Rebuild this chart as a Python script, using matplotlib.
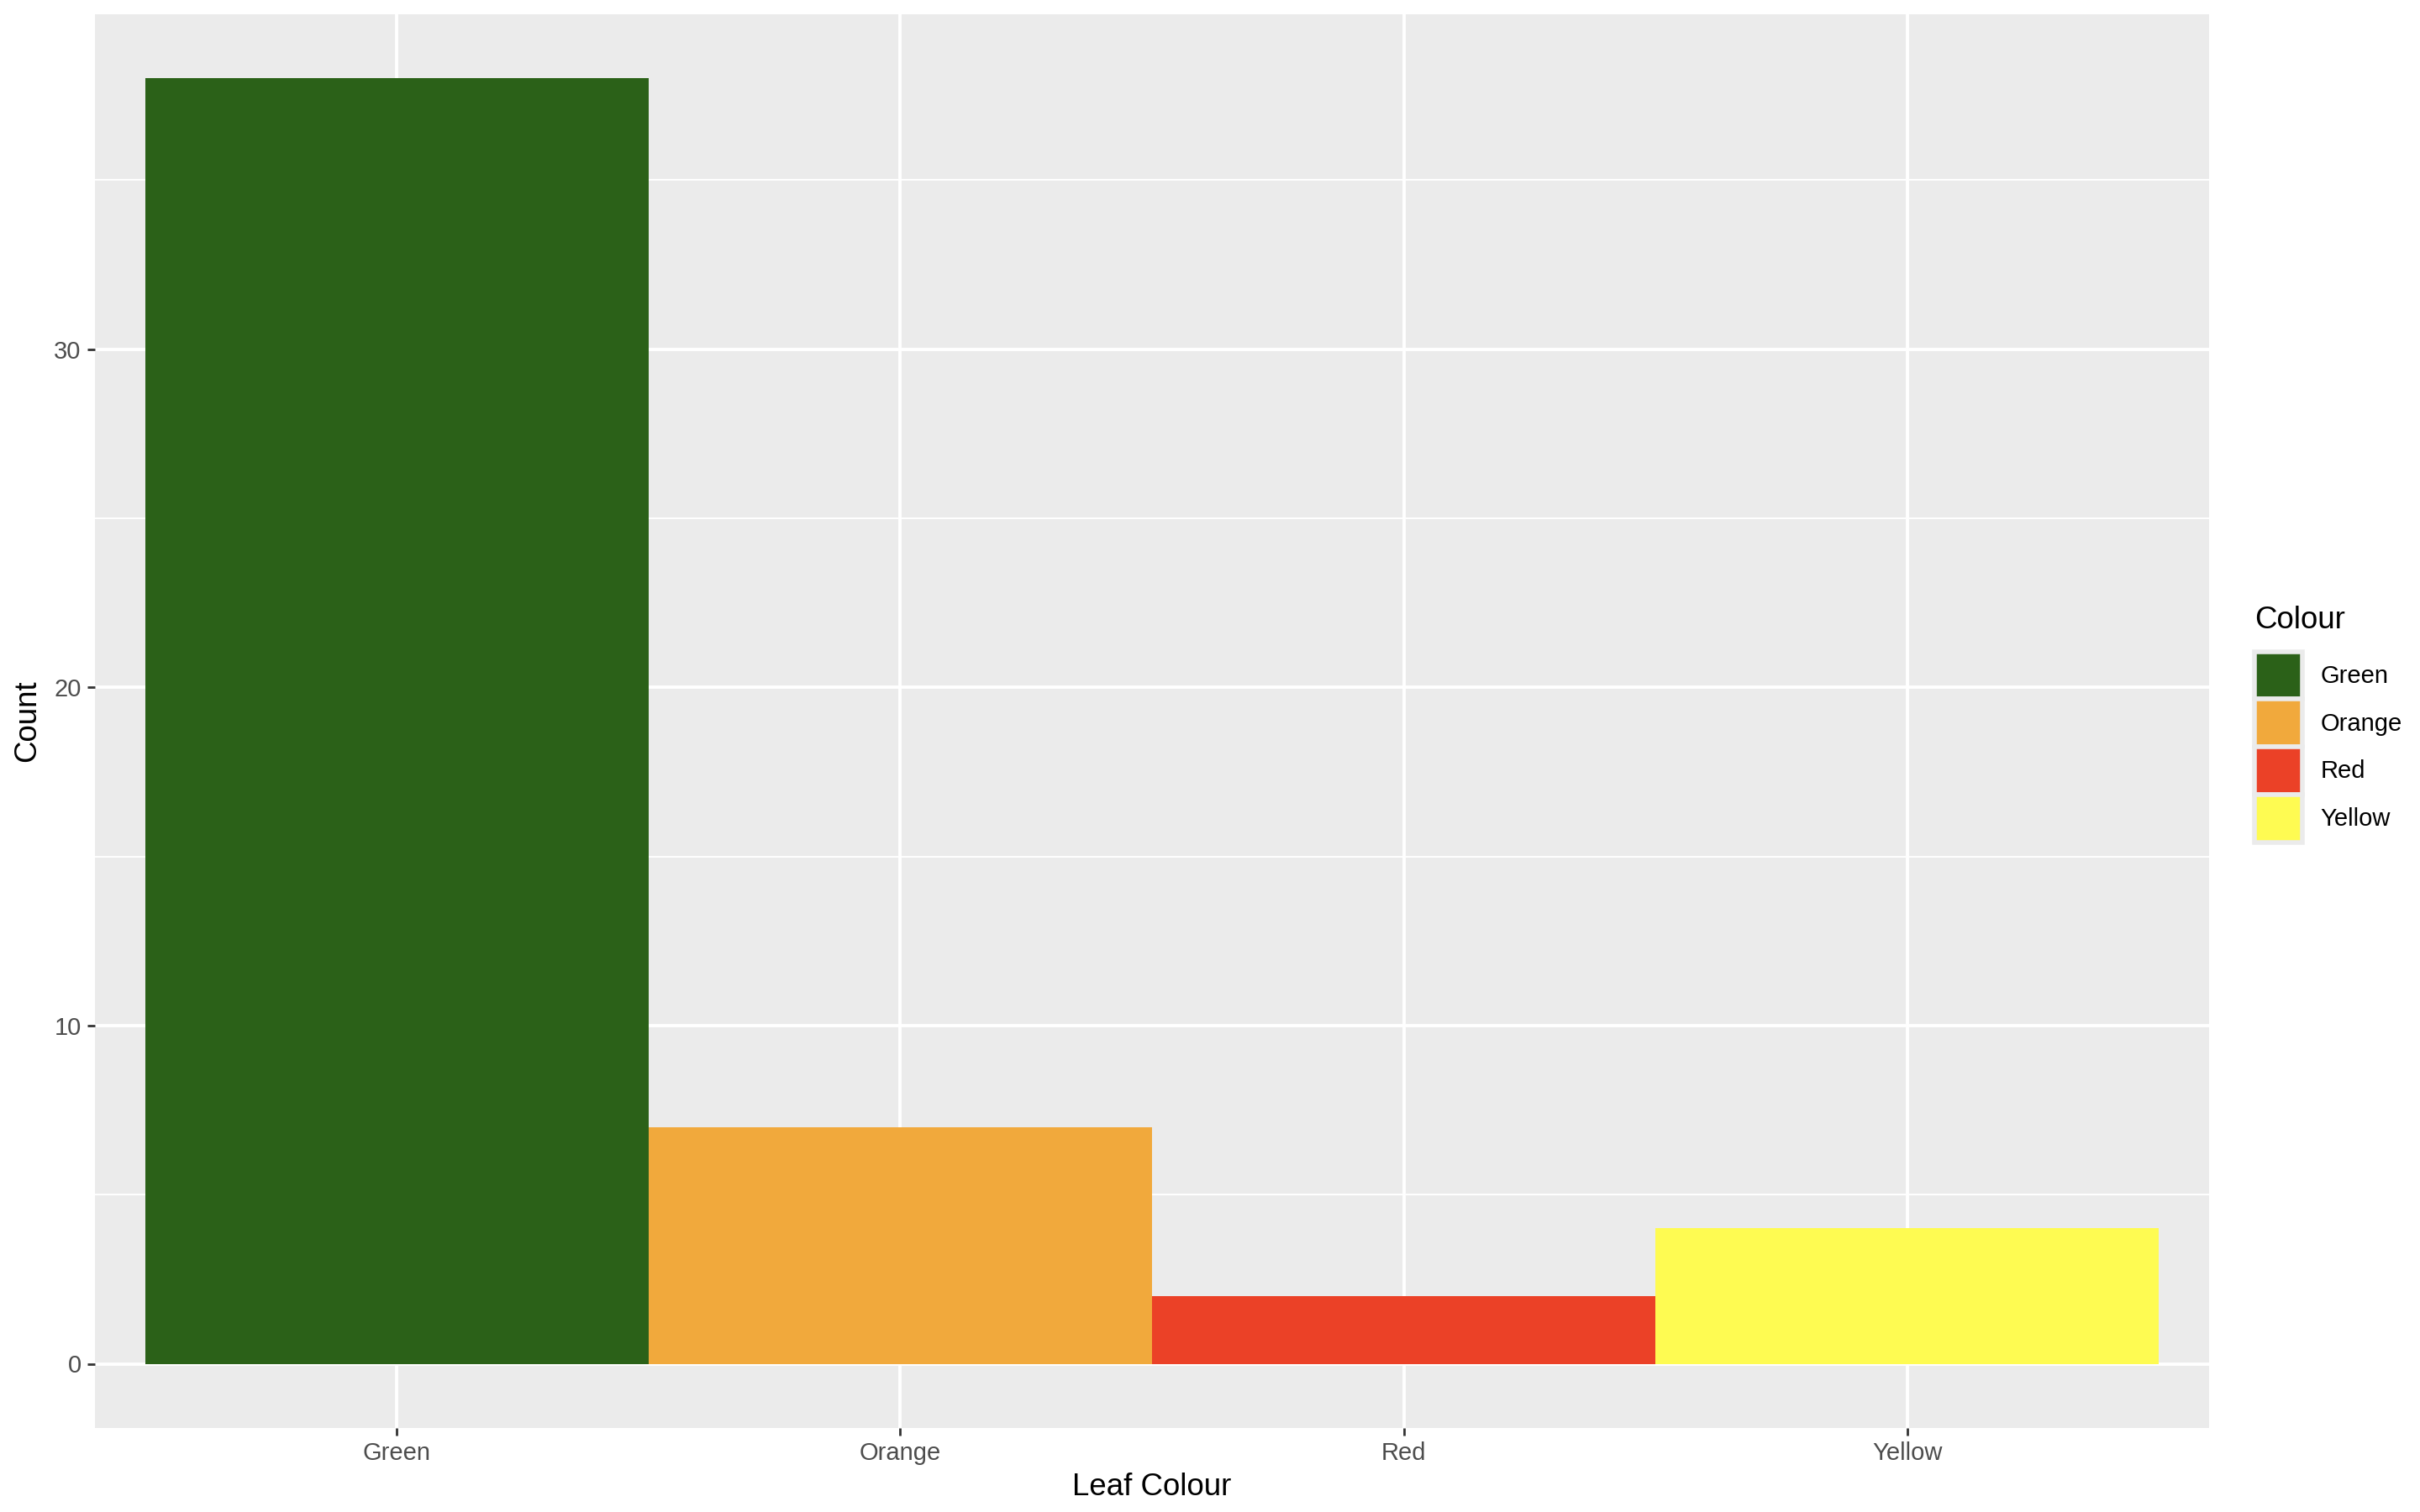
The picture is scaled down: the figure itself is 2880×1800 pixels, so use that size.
import matplotlib
matplotlib.use("Agg")
import matplotlib.pyplot as plt
from matplotlib.patches import Patch
from matplotlib.ticker import MultipleLocator

categories = ["Green", "Orange", "Red", "Yellow"]
counts = [38, 7, 2, 4]
fill_colors = ["#2B6118", "#F1A93C", "#EB4127", "#FEFB52"]
y_ticks = [0, 10, 20, 30]

plt.rcParams['font.family'] = ['Liberation Sans', 'DejaVu Sans']

W, H, DPI = 2880, 1800, 200
fig = plt.figure(figsize=(W / DPI, H / DPI), dpi=DPI)
fig.patch.set_facecolor("white")

left, right, top, bottom = 113, 2629, 17, 1700
ax = fig.add_axes([left / W, 1 - bottom / H, (right - left) / W, (bottom - top) / H])
ax.set_facecolor("#EBEBEB")

x = list(range(1, len(categories) + 1))
ax.bar(x, counts, width=1.0, color=fill_colors, zorder=3, linewidth=0)

ymax = max(counts)
ax.set_xlim(0.4, len(categories) + 0.6)
ax.set_ylim(-0.05 * ymax, ymax * 1.05)

ax.set_xticks(x)
ax.set_xticklabels(categories)
ax.set_yticks(y_ticks)
ax.yaxis.set_minor_locator(MultipleLocator(5))

ax.grid(which="major", color="white", linewidth=1.4, zorder=1)
ax.grid(which="minor", axis="y", color="white", linewidth=0.7, zorder=1)
ax.set_axisbelow(True)

for s in ax.spines.values():
    s.set_visible(False)

ax.tick_params(axis="both", which="major", length=3.3, width=1.0, color="#333333",
               labelcolor="#4D4D4D", labelsize=10.5, pad=2.6)
ax.tick_params(axis="y", which="minor", length=0)

ax.set_xlabel("Leaf Colour", fontsize=13.2, color="black", labelpad=3)
ax.set_ylabel("Count", fontsize=13.2, color="black", labelpad=5)

handles = [Patch(facecolor=c, edgecolor="#EBEBEB", linewidth=2.0, label=l)
           for c, l in zip(fill_colors, categories)]
leg = fig.legend(handles=handles, title="Colour", loc="center left",
                 bbox_to_anchor=(2683 / W, 1 - 862 / H), frameon=False,
                 fontsize=10.5, title_fontsize=13.2, handlelength=1.95,
                 handleheight=2.62, labelspacing=0.0, handletextpad=0.75,
                 borderpad=0, borderaxespad=0)
leg._legend_box.align = "left"
leg._legend_box.sep = 7

fig.savefig("out.png", dpi=DPI)
